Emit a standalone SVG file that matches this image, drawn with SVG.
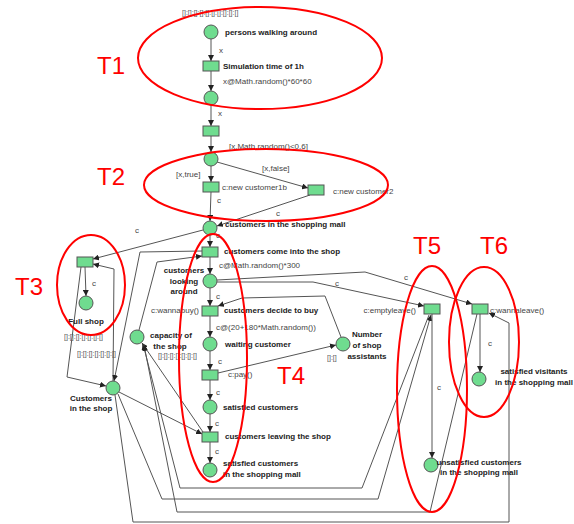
<svg xmlns="http://www.w3.org/2000/svg" width="574" height="524" viewBox="0 0 574 524">
<defs>
<marker id="ah" markerWidth="6" markerHeight="6" refX="6" refY="3" orient="auto" markerUnits="userSpaceOnUse">
<path d="M0,0 L6,3 L0,6 z" fill="#222"/>
</marker>
<style>
.pl{fill:#6fdc8f;stroke:#555;stroke-width:1}
.tr{fill:#6fdc8f;stroke:#555;stroke-width:1}
.arc{fill:none;stroke:#555;stroke-width:1;marker-end:url(#ah)}
.b{font-family:"Liberation Sans",Arial,sans-serif;font-size:8px;font-weight:bold;fill:#222}
.n{font-family:"Liberation Sans",Arial,sans-serif;font-size:8px;fill:#444}
.m{font-family:"Liberation Sans",Arial,sans-serif;font-size:7px;fill:#555}
.red{fill:none;stroke:#f00;stroke-width:2}
.rt{font-family:"Liberation Sans",Arial,sans-serif;font-size:24px;fill:#f00}
</style>
</defs>
<rect width="574" height="524" fill="#fff"/>

<g id="connectors">
<path class="arc" d="M211,39 L211,61"/>
<path class="arc" d="M211,71 L211,91"/>
<path class="arc" d="M211,105 L211,126"/>
<path class="arc" d="M211,136 L211,152"/>
<path class="arc" d="M211,166 L211,182"/>
<path class="arc" d="M217,162 L308,188"/>
<path class="arc" d="M211,192 L210,221"/>
<path class="arc" d="M310,195 L217,226"/>
<path class="arc" d="M203,230 L93,259"/>
<path class="arc" d="M210,235 L210,247"/>
<path class="arc" d="M210,257 L210,274"/>
<path class="arc" d="M210,288 L210,306"/>
<path class="arc" d="M210,316 L210,337"/>
<path class="arc" d="M210,351 L210,370"/>
<path class="arc" d="M210,380 L210,400"/>
<path class="arc" d="M210,414 L210,432"/>
<path class="arc" d="M210,442 L210,463"/>
<path class="arc" d="M85,267 L86,296"/>
<path class="arc" d="M81,267 L67,377 L106,386"/>
<path class="arc" d="M113,381 L114,269 L93,264"/>
<path class="arc" d="M202,251 L140,252 L114,381"/>
<path class="arc" d="M139,330 L157,262 L202,256"/>
<path class="arc" d="M119,392 L202,434"/>
<path class="arc" d="M203,432 L142,343"/>
<path class="arc" d="M115,395 L133,522 L509,522 L509,323 L489,313"/>
<path class="arc" d="M118,394 L162,499 L378,499 L431,315"/>
<path class="arc" d="M429,315 L362,488 L180,488 L143,344"/>
<path class="arc" d="M477,314 L430,512 L177,512 L144,345"/>
<path class="arc" d="M217,282 L313,282 L424,306"/>
<path class="arc" d="M217,280 L365,272 L472,304"/>
<path class="arc" d="M218,373 L336,345"/>
<path class="arc" d="M341,337 L325,296 L242,298 L218,306"/>
<path class="arc" d="M432,314 L432,458"/>
<path class="arc" d="M480,314 L480,372"/>
</g>

<g id="p-persons"><circle class="pl" cx="211" cy="32" r="7"/><text class="b" x="225" y="35">persons walking around</text></g>
<g id="t-sim"><rect class="tr" x="203" y="61" width="16" height="10"/><text class="b" x="223" y="69">Simulation time of 1h</text></g>
<g id="p-2"><circle class="pl" cx="211" cy="98" r="7"/></g>
<g id="t-2"><rect class="tr" x="203" y="126" width="16" height="10"/></g>
<g id="p-3"><circle class="pl" cx="211" cy="159" r="7"/></g>
<g id="t-c1b"><rect class="tr" x="203" y="182" width="16" height="10"/><text class="n" x="222" y="190">c:new customer1b</text></g>
<g id="t-c2"><rect class="tr" x="308" y="185" width="16" height="10"/><text class="n" x="333" y="194">c:new customer2</text></g>
<g id="p-mall"><circle class="pl" cx="210" cy="228" r="7"/><text class="b" x="225" y="227">customers in the shopping mall</text></g>
<g id="t-full"><rect class="tr" x="77" y="257" width="16" height="10"/></g>
<g id="p-full"><circle class="pl" cx="86" cy="303" r="7"/><text class="b" x="86" y="324" text-anchor="middle">Full shop</text><text class="m" x="64" y="339" opacity="0.99">[]:[]:[]:[]:[]:[]:[]</text></g>
<g id="t-come"><rect class="tr" x="202" y="247" width="16" height="10"/><text class="b" x="224" y="254">customers come into the shop</text></g>
<g id="p-look"><circle class="pl" cx="210" cy="281" r="7"/><text class="b" x="184" y="273" text-anchor="middle">customers</text><text class="b" x="184" y="284" text-anchor="middle">looking</text><text class="b" x="184" y="294" text-anchor="middle">around</text></g>
<g id="t-decide"><rect class="tr" x="202" y="306" width="16" height="10"/><text class="b" x="224" y="313">customers decide to buy</text><text class="n" x="199" y="313" text-anchor="end">c:wannabuy()</text></g>
<g id="p-wait"><circle class="pl" cx="210" cy="344" r="7"/><text class="b" x="225" y="347">waiting customer</text></g>
<g id="t-pay"><rect class="tr" x="202" y="370" width="16" height="10"/><text class="n" x="228" y="377">c:pay()</text></g>
<g id="p-sat"><circle class="pl" cx="210" cy="407" r="7"/><text class="b" x="223" y="410">satisfied customers</text></g>
<g id="t-leave"><rect class="tr" x="202" y="432" width="16" height="10"/><text class="b" x="225" y="439">customers leaving the shop</text></g>
<g id="p-satmall"><circle class="pl" cx="210" cy="470" r="7"/><text class="b" x="223" y="466">satisfied customers</text><text class="b" x="223" y="477">in the shopping mall</text></g>
<g id="p-cust"><circle class="pl" cx="113" cy="388" r="7"/><text class="b" x="91" y="401" text-anchor="middle">Customers</text><text class="b" x="91" y="411" text-anchor="middle">in the shop</text><text class="m" x="77" y="356" opacity="0.99">[]:[]:[]:[]:[]:[]:[]</text></g>
<g id="p-cap"><circle class="pl" cx="137" cy="337" r="7"/><text class="b" x="171" y="338" text-anchor="middle">capacity of</text><text class="b" x="170" y="349" text-anchor="middle">the shop</text><text class="m" x="158" y="358" opacity="0.99">[]:[]:[]:[]:[]:[]:[]</text></g>
<g id="p-num"><circle class="pl" cx="343" cy="344" r="7"/><text class="b" x="367" y="337" text-anchor="middle">Number</text><text class="b" x="367" y="348" text-anchor="middle">of shop</text><text class="b" x="367" y="359" text-anchor="middle">assistants</text><text class="m" x="327" y="360" opacity="0.99">[]:[]</text></g>
<g id="t-empty"><rect class="tr" x="424" y="304" width="16" height="10"/><text class="n" x="416" y="313" text-anchor="end">c:emptyleave()</text></g>
<g id="t-wanna"><rect class="tr" x="472" y="304" width="16" height="10"/><text class="n" x="490" y="313">c:wannaleave()</text></g>
<g id="p-satvis"><circle class="pl" cx="479" cy="379" r="7"/><text class="b" x="534" y="374" text-anchor="middle">satisfied visitants</text><text class="b" x="534" y="385" text-anchor="middle">in the shopping mall</text></g>
<g id="p-unsat"><circle class="pl" cx="431" cy="465" r="7"/><text class="b" x="479" y="465" text-anchor="middle">unsatisfied customers</text><text class="b" x="479" y="475" text-anchor="middle">in the shopping mall</text></g>

<g id="inscriptions">
<text class="m" x="182" y="15" opacity="0.99">[]:[]:[]:[]:[]:[]:[]:[]:[]:[]</text>
<text class="n" x="219" y="53">x</text>
<text class="n" x="223" y="84">x@Math.random()*60*60</text>
<text class="n" x="218" y="116">x</text>
<text class="n" x="229" y="149">[x,Math.random()&lt;0.6]</text>
<text class="n" x="176" y="177">[x,true]</text>
<text class="n" x="262" y="171">[x,false]</text>
<text class="n" x="217" y="203">c</text>
<text class="n" x="276" y="216">c</text>
<text class="n" x="135" y="233">c</text>
<text class="n" x="216" y="238">c</text>
<text class="n" x="219" y="268">c@Math.random()*300</text>
<text class="n" x="216" y="299">c</text>
<text class="n" x="216" y="330">c@(20+180*Math.random())</text>
<text class="n" x="218" y="364">c</text>
<text class="n" x="216" y="395">c</text>
<text class="n" x="215" y="426">c</text>
<text class="n" x="215" y="454">c</text>
<text class="n" x="92" y="286">c</text>
<text class="n" x="404" y="280">c</text>
<text class="n" x="335" y="286">c</text>
<text class="n" x="488" y="346">c</text>
<text class="n" x="437" y="390">c</text>
</g>

<g id="annotations">
<ellipse class="red" cx="260" cy="58" rx="122" ry="51"/>
<ellipse class="red" cx="266" cy="185" rx="122" ry="36"/>
<ellipse class="red" cx="91" cy="285" rx="34" ry="50"/>
<ellipse class="red" cx="213" cy="358" rx="34" ry="124"/>
<ellipse class="red" cx="432" cy="389" rx="35" ry="123"/>
<ellipse class="red" cx="484" cy="342" rx="35" ry="75"/>
<text class="rt" x="97" y="74">T1</text>
<text class="rt" x="97" y="185">T2</text>
<text class="rt" x="15" y="295">T3</text>
<text class="rt" x="277" y="384">T4</text>
<text class="rt" x="413" y="254">T5</text>
<text class="rt" x="480" y="254">T6</text>
</g>
</svg>
